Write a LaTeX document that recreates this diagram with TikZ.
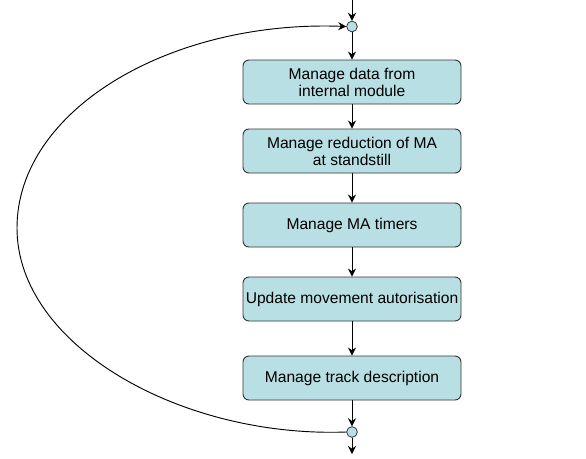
\documentclass[tikz,border=0pt]{standalone}
\usepackage{fontspec}
\setmainfont{Liberation Sans}
\usepackage{tikz}
\usetikzlibrary{arrows.meta}
\definecolor{pale}{RGB}{184,223,227}

\begin{document}
\begin{tikzpicture}[x=0.75pt, y=-0.75pt, >={Stealth[length=6pt,width=6pt,inset=2pt]},
  box/.style={draw=black!80, line width=0.7pt, rounded corners=4.5pt, fill=pale,
              minimum width=163.5pt, minimum height=33pt, inner sep=1pt,
              align=center, font=\fontsize{11.7}{12.8}\selectfont},
  joint/.style={circle, draw=black!80, fill=pale, line width=0.6pt,
                minimum size=8pt, inner sep=0pt},
  flow/.style={->, line width=0.7pt}]
  \useasboundingbox (0,0) rectangle (586,458);
  \coordinate (entry) at (352,0);
  \node (jin) [joint] at (352,26.5) {};
  \node (data) [box] at (352,82) {Manage data from\\internal module};
  \node (red) [box] at (352,151) {Manage reduction of MA\\at standstill};
  \node (tim) [box] at (352,225) {Manage MA timers};
  \node (upd) [box] at (352,299) {Update movement autorisation};
  \node (track) [box] at (352,378) {Manage track description};
  \node (jout) [joint] at (352,432) {};
  \coordinate (exit) at (352,454);
  \coordinate (loop) at (17,228);
  \draw[flow] (entry) -- (jin);
  \draw[flow] (jin) -- (data);
  \draw[flow] (data) -- (red);
  \draw[flow] (red) -- (tim);
  \draw[flow] (tim) -- (upd);
  \draw[flow] (upd) -- (track);
  \draw[flow] (track) -- (jout);
  \draw[flow] (jout) -- (exit);
  % loop back to the top
  \draw[flow] (jout.west) .. controls (180,438) and (17,345) .. (loop)
    .. controls (17,110) and (170,20) .. (jin.west);
\end{tikzpicture}
\end{document}
